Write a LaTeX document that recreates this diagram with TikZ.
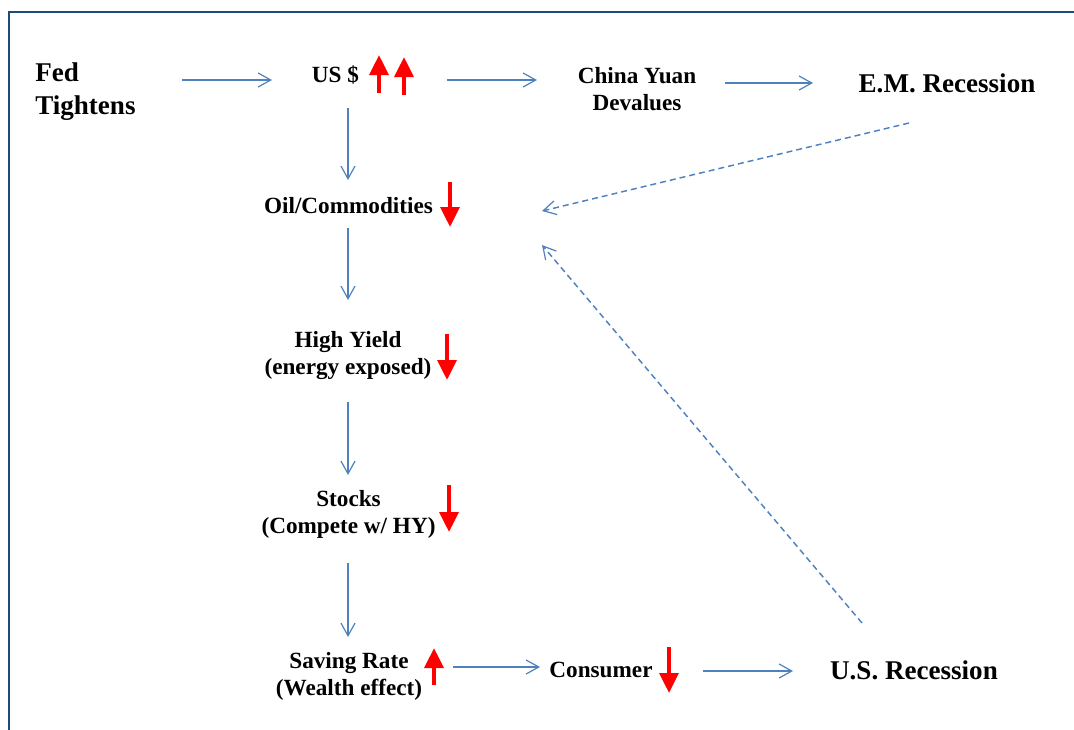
\documentclass[tikz,border=0pt]{standalone}
\usepackage{fontspec}
\setmainfont{Liberation Serif}
\usetikzlibrary{arrows.meta,calc}
\definecolor{arrowblue}{HTML}{4F81BD}
\definecolor{borderblue}{HTML}{1F497D}
\definecolor{upred}{HTML}{FF0000}
\tikzset{
  lbl/.style={inner sep=0pt, font=\bfseries\fontsize{17.4}{20.25}\selectfont, align=center},
  biglbl/.style={inner sep=0pt, font=\bfseries\fontsize{20.3}{24.75}\selectfont},
  conn/.style={draw=arrowblue, line width=0.9pt, -{Straight Barb[length=9.5pt,width=10.5pt,line width=0.9pt]}},
  dconn/.style={conn, line width=1.1pt, dash pattern=on 4.5pt off 3pt},
  redarrow/.style={draw=upred, line width=3pt, -{Triangle[width=14pt,length=15pt]}},
  border/.style={draw=borderblue, line width=1.8pt}
}
\begin{document}
\begin{tikzpicture}[x=0.75pt,y=-0.75pt]
\useasboundingbox (0,0) rectangle (1074,729);
\draw[border] (9,730) -- (9,12) -- (1075,12);

% nodes
\node[biglbl, anchor=west, align=left] (fed) at (35,92) {Fed\\Tightens};
\node[lbl, anchor=base] (usd) at (335.5,82) {US \$};
\node[lbl] (china) at (637,89) {China Yuan\\Devalues};
\node[biglbl, anchor=base] (em) at (947,92) {E.M. Recession};
\node[lbl, anchor=base] (oil) at (348.5,213) {Oil/Commodities};
\node[lbl] (hy) at (348,355.7) {High Yield\\(energy exposed)};
\node[lbl] (stocks) at (348.5,514.5) {Stocks\\(Compete w/ HY)};
\node[lbl] (saving) at (349,676) {Saving Rate\\(Wealth effect)};
\node[lbl, anchor=base] (consumer) at (601,677) {Consumer};
\node[biglbl, anchor=base] (usrec) at (914,679) {U.S. Recession};

% red indicator arrows
\draw[redarrow] (379,93) -- (379,55);
\draw[redarrow] (404,95) -- (404,57);
\draw[redarrow] (450,182) -- (450,227);
\draw[redarrow] (447,334) -- (447,380);
\draw[redarrow] (449,485) -- (449,532);
\draw[redarrow] (434,685) -- (434,648);
\draw[redarrow] (669,647) -- (669,693);

% connectors
\draw[conn] ($(fed.west)+(147,-12)$) -- ($(usd.base)+(-63.5,-2)$);
\draw[conn] ($(usd.base)+(111.5,-2)$) -- ($(china)+(-100,-9)$);
\draw[conn] ($(china)+(88,-6)$) -- ($(em.base)+(-134,-9)$);
\draw[conn] ($(usd.base)+(12.5,26)$) -- ($(oil.base)+(-0.5,-33)$);
\draw[conn] ($(oil.base)+(-0.5,15)$) -- ($(hy)+(0,-55.7)$);
\draw[conn] ($(hy)+(0,46.3)$) -- ($(stocks)+(-0.5,-39.5)$);
\draw[conn] ($(stocks)+(-0.5,48.5)$) -- ($(saving)+(-1,-39)$);
\draw[conn] ($(saving)+(104,-9)$) -- ($(consumer.base)+(-61,-10)$);
\draw[conn] ($(consumer.base)+(102,-6)$) -- ($(usrec.base)+(-121,-8)$);
\draw[dconn] ($(em.base)+(-38,31)$) -- ($(oil.base)+(193.5,-2)$);
\draw[dconn] ($(usrec.base)+(-52,-56)$) -- ($(oil.base)+(193.5,32)$);
\end{tikzpicture}
\end{document}
